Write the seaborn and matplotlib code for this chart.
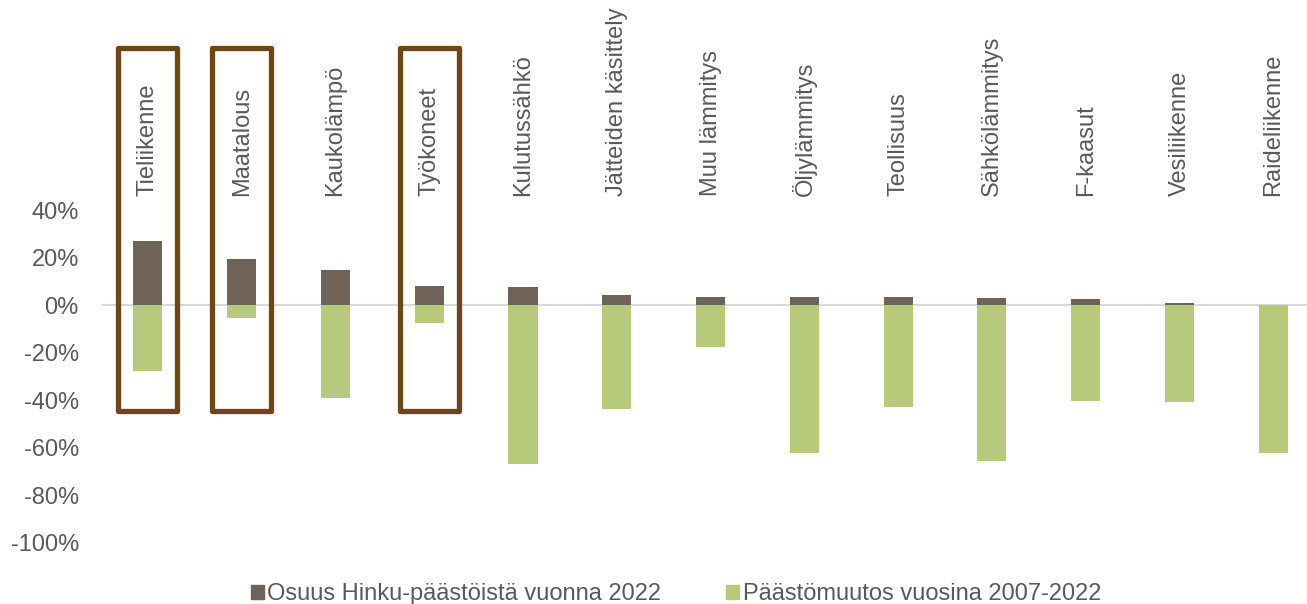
import matplotlib
matplotlib.use('Agg')
import matplotlib.pyplot as plt
import pandas as pd
import seaborn as sns
from matplotlib.patches import Rectangle, Patch
from matplotlib.ticker import PercentFormatter

# Data
sectors = ['Tieliikenne', 'Maatalous', 'Kaukolämpö', 'Työkoneet', 'Kulutussähkö',
           'Jätteiden käsittely', 'Muu lämmitys', 'Öljylämmitys', 'Teollisuus',
           'Sähkölämmitys', 'F-kaasut', 'Vesiliikenne', 'Raideliikenne']
share_2022 = [27.0, 19.5, 14.6, 7.9, 7.5, 4.4, 3.6, 3.6, 3.3, 3.2, 2.6, 1.0, 0.1]
change_2007_2022 = [-27.5, -5.5, -38.9, -7.4, -66.9, -43.8, -17.6, -62.0, -42.8,
                    -65.7, -40.3, -40.8, -62.3]
highlighted = ['Tieliikenne', 'Maatalous', 'Työkoneet']
series_names = ['Osuus Hinku-päästöistä vuonna 2022', 'Päästömuutos vuosina 2007-2022']

dark = '#6F6357'
green = '#B7CA7C'
box_col = '#6E4615'
txt = '#595959'
fs = 17

df = pd.DataFrame({'sector': sectors, 'share': share_2022, 'change': change_2007_2022})

sns.set_style('white')
plt.rcParams['font.family'] = ['Liberation Sans', 'DejaVu Sans']
plt.rcParams['axes.unicode_minus'] = False

fig = plt.figure(figsize=(13.07, 6.04), dpi=100)
ax = fig.add_axes([0.0773, 0.101, 0.9327, 0.5513])

sns.barplot(data=df, x='sector', y='share', order=sectors, color=dark,
            width=0.31, saturation=1, linewidth=0, ax=ax)
sns.barplot(data=df, x='sector', y='change', order=sectors, color=green,
            width=0.31, saturation=1, linewidth=0, ax=ax)

ax.axhline(0, color='#D9D9D9', linewidth=1.5, zorder=0.5)
ax.set_ylim(-100, 40)
ax.set_xlim(-0.5, len(sectors) - 0.5)
ax.set_yticks(range(-100, 41, 20))
ax.yaxis.set_major_formatter(PercentFormatter(decimals=0))
ax.set_xlabel('')
ax.set_ylabel('')
sns.despine(ax=ax, left=True, bottom=True)

ax.xaxis.tick_top()
ax.tick_params(axis='x', length=0, pad=10, labelsize=fs, colors=txt, rotation=90)
ax.tick_params(axis='y', length=0, pad=16, labelsize=fs, colors=txt)

# frames around the highlighted sectors
for name in highlighted:
    i = sectors.index(name)
    ax.add_patch(Rectangle((i - 0.315, -44.3), 0.63, 152.3, fill=False,
                           edgecolor=box_col, linewidth=3.8, joinstyle='round',
                           clip_on=False, zorder=5))

handles = [Patch(color=dark, label=series_names[0]), Patch(color=green, label=series_names[1])]
fig.legend(handles=handles, loc='lower center', bbox_to_anchor=(0.517, -0.037), ncol=2,
           frameon=False, fontsize=fs, labelcolor=txt, handlelength=0.55,
           handleheight=0.55, handletextpad=0.15, columnspacing=2.75)

fig.savefig('out.png', dpi=100)
